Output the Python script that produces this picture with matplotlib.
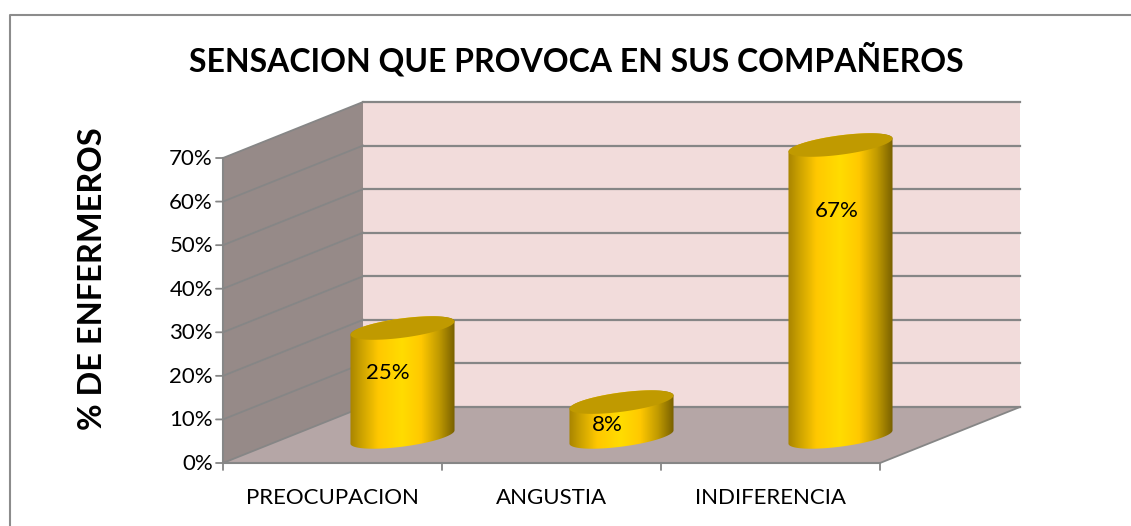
import numpy as np
import matplotlib
matplotlib.use("Agg")
import matplotlib.pyplot as plt
from matplotlib.colors import LinearSegmentedColormap
from matplotlib.lines import Line2D
from matplotlib.patches import Polygon

plt.rcParams["font.family"] = ["Lato", "DejaVu Sans"]

# === Daten ===
categories = ["PREOCUPACION", "ANGUSTIA", "INDIFERENCIA"]
values = [25, 8, 67]
value_labels = ["25%", "8%", "67%"]
y_ticks = [0, 10, 20, 30, 40, 50, 60, 70]
y_tick_labels = ["0%", "10%", "20%", "30%", "40%", "50%", "60%", "70%"]

title = "SENSACION QUE PROVOCA EN SUS COMPAÑEROS"
y_title = "% DE ENFERMEROS"

W, H = 1131, 526

# Vorderkante des Diagramms in Pixeln
left, right = 223, 880
y0_px, y70_px = 463, 158

# Tiefe: Verschiebung der Rueckwand in Achseneinheiten
DX = 140 / (right - left) * 3
DY = 56 / (y0_px - y70_px) * 70

HALF_W = 0.196
HALF_D = 0.21
BASE = -0.45  # Zylinder sitzen etwas tiefer als die Bodenmitte

# Beschriftung relativ zur Deckelmitte, in Pixeln
label_offsets = [(-15, -45), (-14, -23), (-4, -66)]


def proj(x, y, d=0.0):
    return np.asarray(x) + np.asarray(d) * DX, np.asarray(y) + np.asarray(d) * DY


fig = plt.figure(figsize=(W / 100, H / 100), dpi=100, facecolor="white")
ax = fig.add_axes([left / W, 1 - y0_px / H, (right - left) / W, (y0_px - y70_px) / H])
ax.set_xlim(0, 3)
ax.set_ylim(0, 70)
ax.axis("off")

# === Rahmen (nur links und oben sichtbar) ===
frame_x = [9.5 / W, 9.5 / W, 1.0]
frame_y = [0.0, 1 - 14.5 / H, 1 - 14.5 / H]
fig.add_artist(Line2D(frame_x, frame_y, transform=fig.transFigure, color="#8c8c8c", lw=1.5))

GRID = "#868686"


def poly(xs, ys, **kw):
    p = Polygon(np.column_stack([xs, ys]), closed=True, clip_on=False, **kw)
    ax.add_patch(p)
    return p


# === Waende und Boden ===
bx, by = proj([0, 3, 3, 0], [0, 0, 70, 70], 1)
poly(bx, by, fc="#F2DCDB", ec="none", zorder=1)
wx, wy = proj([0, 0, 0, 0], [0, 0, 70, 70], np.array([0, 1, 1, 0]))
poly(wx, wy, fc="#968A88", ec="none", zorder=1)
fx, fy = proj([0, 3, 3, 0], [0, 0, 0, 0], np.array([0, 0, 1, 1]))
poly(fx, fy, fc="#B5A6A6", ec="none", zorder=1)

# === Gitterlinien ===
for t in y_ticks:
    x1, y1 = proj(0, t, 0)
    x2, y2 = proj(0, t, 1)
    x3, y3 = proj(3, t, 1)
    ax.plot([x1, x2], [y1, y2], color=GRID, lw=1.3, clip_on=False, zorder=2)
    ax.plot([x2, x3], [y2, y3], color=GRID, lw=1.6, clip_on=False, zorder=2)

# === Achsen ===
x1, y1 = proj(3, 0, 0)
x2, y2 = proj(3, 0, 1)
ax.plot([0, 3], [0, 0], color=GRID, lw=1.5, clip_on=False, zorder=3)
ax.plot([0, 0], [0, 70], color=GRID, lw=1.5, clip_on=False, zorder=3)
ax.plot([x1, x2], [y1, y2], color=GRID, lw=1.3, clip_on=False, zorder=3)

for t, lab in zip(y_ticks, y_tick_labels):
    ax.annotate("", (0, t), xytext=(-7, 0), textcoords="offset pixels",
                arrowprops=dict(arrowstyle="-", color=GRID, lw=1.3, shrinkA=0, shrinkB=0),
                annotation_clip=False, zorder=3)
    ax.annotate(lab, (0, t), xytext=(-10, -1), textcoords="offset pixels", ha="right", va="center",
                fontsize=16, color="black", annotation_clip=False)

for i in range(4):
    ax.annotate("", (i, 0), xytext=(0, -7), textcoords="offset pixels",
                arrowprops=dict(arrowstyle="-", color=GRID, lw=1.3, shrinkA=0, shrinkB=0),
                annotation_clip=False, zorder=3)

for i, cat in enumerate(categories):
    ax.annotate(cat, (i + 0.5, 0), xytext=(0, -35), textcoords="offset pixels", ha="center", va="center",
                fontsize=16, color="black", annotation_clip=False)

# === Zylinder ===
gold = LinearSegmentedColormap.from_list("gold", [
    (0.0, "#A88400"), (0.10, "#C9A000"), (0.27, "#FFC800"), (0.50, "#FFDC00"),
    (0.68, "#FFC800"), (0.85, "#C09A00"), (1.0, "#786000"),
])
grad = np.linspace(0, 1, 256).reshape(1, -1)
tt = np.linspace(0, 2 * np.pi, 361)

for i, (v, lab) in enumerate(zip(values, value_labels)):
    cx = i + 0.5
    ex = HALF_W * np.cos(tt) + cx
    ed = 0.5 + HALF_D * np.sin(tt)
    bot_x, bot_y = proj(ex, BASE + 0 * tt, ed)
    top_x, top_y = proj(ex, BASE + v + 0 * tt, ed)

    # Umriss: untere Haelfte der Grundflaeche, obere Haelfte des Deckels
    i_r, i_l = np.argmax(bot_x), np.argmin(bot_x)
    lower = np.r_[i_l:len(tt) - 1, 0:i_r + 1]
    upper = np.arange(i_r, i_l + 1)
    sx = np.r_[bot_x[lower], top_x[upper]]
    sy = np.r_[bot_y[lower], top_y[upper]]
    outline = poly(sx, sy, fc="none", ec="none", zorder=4)

    im = ax.imshow(grad, cmap=gold, aspect="auto", zorder=4,
                   extent=(bot_x.min(), bot_x.max(), bot_y.min(), top_y.max()))
    im.set_clip_box(fig.bbox)  # sonst schneidet die Achse den Zylinder ab
    im.set_clip_path(outline)

    poly(top_x, top_y, fc="#C09A00", ec="none", zorder=5)

    lx, ly = proj(cx, BASE + v, 0.5)
    ax.annotate(lab, (lx, ly), xytext=label_offsets[i], textcoords="offset pixels", ha="center", va="center",
                fontsize=16, color="black", zorder=6, annotation_clip=False)

ax.set_xlim(0, 3)
ax.set_ylim(0, 70)

# === Titel ===
fig.text(576 / W, 1 - 59 / H, title, ha="center", va="center", fontsize=23, fontweight="bold")
fig.text(93 / W, 1 - 279 / H, y_title, ha="center", va="center", rotation=90, fontsize=23.4, fontweight="bold")

fig.savefig("out.png", dpi=100)
